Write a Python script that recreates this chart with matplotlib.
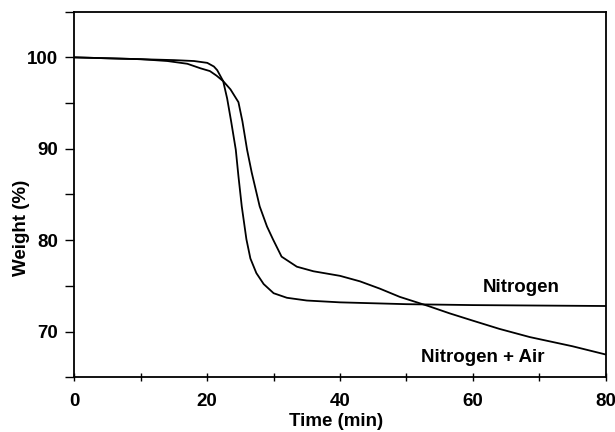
import matplotlib
matplotlib.use("Agg")
import matplotlib.pyplot as plt
from matplotlib.ticker import MultipleLocator

plt.rcParams['font.family'] = ['Liberation Sans', 'DejaVu Sans']

# Nitrogen atmosphere
t_n2 = [0, 5, 10, 15, 18, 20, 21, 21.5, 22.4, 23, 23.6, 24.3, 24.7, 25.2, 25.9,
        26.5, 27.4, 28.5, 30, 32, 35, 40, 50, 60, 80]
w_n2 = [100, 99.9, 99.8, 99.7, 99.6, 99.4, 99.0, 98.6, 97.4, 95.5, 93.0, 89.9, 87.0,
        83.7, 80.1, 78.0, 76.4, 75.2, 74.2, 73.7, 73.4, 73.2, 73.0, 72.9, 72.8]

# Nitrogen + Air atmosphere
t_air = [0, 5, 10, 14, 17, 19, 20.4, 21.4, 22.4, 23.5, 24.7, 25.3, 26.0, 26.7, 27.9,
         29.0, 29.9, 31.2, 33.5, 36, 40, 43, 46, 49, 53.3, 56.5, 60, 64, 68.6, 75, 80]
w_air = [100, 99.9, 99.8, 99.6, 99.3, 98.8, 98.5, 98.0, 97.4, 96.5, 95.1, 93.0, 89.9,
         87.4, 83.7, 81.5, 80.1, 78.2, 77.1, 76.6, 76.1, 75.5, 74.7, 73.8, 72.8, 72.0,
         71.2, 70.3, 69.4, 68.4, 67.5]

series_labels = ["Nitrogen", "Nitrogen + Air"]
x_ticks = [0, 20, 40, 60, 80]
y_ticks = [70, 80, 90, 100]

FS = 13.5

fig = plt.figure(figsize=(6.15, 4.32), dpi=100)
ax = fig.add_axes([0.1211, 0.1266, 0.8635, 0.8464])

ax.plot(t_n2, w_n2, color='black', lw=1.3)
ax.plot(t_air, w_air, color='black', lw=1.3)

ax.set_xlim(0, 80)
ax.set_ylim(65, 105)
ax.set_xticks(x_ticks)
ax.set_yticks(y_ticks)
ax.xaxis.set_minor_locator(MultipleLocator(10))
ax.yaxis.set_minor_locator(MultipleLocator(5))

ax.tick_params(axis='x', which='both', direction='inout', length=6, width=1,
               labelsize=FS, pad=8)
ax.tick_params(axis='y', which='both', direction='out', length=6.5, width=1,
               labelsize=FS, pad=5.5)
for lab in ax.get_xticklabels() + ax.get_yticklabels():
    lab.set_fontweight('bold')

for s in ax.spines.values():
    s.set_linewidth(1.3)

ax.set_xlabel("Time (min)", fontsize=FS, fontweight='bold')
ax.set_ylabel("Weight (%)", fontsize=FS, fontweight='bold')
ax.xaxis.set_label_coords(0.4925, -0.097)
ax.yaxis.set_label_coords(-0.084, 0.41)

ax.text(61.5, 74.8, series_labels[0], fontsize=FS, fontweight='bold',
        ha='left', va='center')
ax.text(52.2, 67.2, series_labels[1], fontsize=FS, fontweight='bold',
        ha='left', va='center')

fig.savefig("out.png", dpi=100)
